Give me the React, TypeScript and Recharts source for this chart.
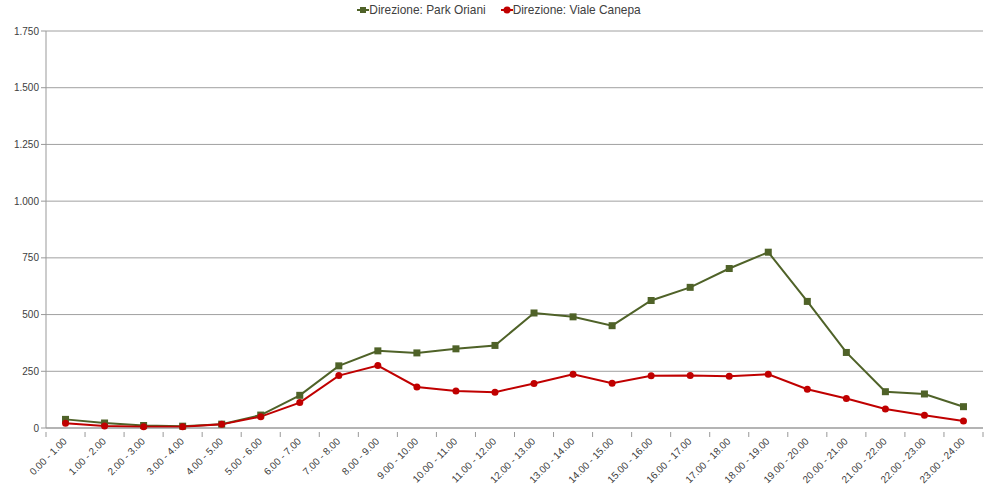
import { CartesianGrid, Line, LineChart, XAxis, YAxis } from 'recharts';

const GREEN = '#4f6228';
const RED = '#c00000';
const FONT = '"Liberation Sans", Arial, sans-serif';

const hours = [
  '0.00 - 1.00', '1.00 - 2.00', '2.00 - 3.00', '3.00 - 4.00', '4.00 - 5.00', '5.00 - 6.00',
  '6.00 - 7.00', '7.00 - 8.00', '8.00 - 9.00', '9.00 - 10.00', '10.00 - 11.00', '11.00 - 12.00',
  '12.00 - 13.00', '13.00 - 14.00', '14.00 - 15.00', '15.00 - 16.00', '16.00 - 17.00', '17.00 - 18.00',
  '18.00 - 19.00', '19.00 - 20.00', '20.00 - 21.00', '21.00 - 22.00', '22.00 - 23.00', '23.00 - 24.00',
];
const parkOriani = [38, 22, 11, 8, 17, 57, 144, 274, 340, 331, 349, 364, 507, 490, 451, 562, 620, 703, 775, 558, 333, 160, 150, 94];
const vialeCanepa = [21, 9, 6, 6, 16, 50, 112, 231, 275, 181, 163, 158, 196, 237, 197, 230, 231, 228, 237, 171, 130, 84, 56, 31];
const yTicks = [0, 250, 500, 750, 1000, 1250, 1500, 1750];

const data = hours.map((h, i) => ({ h, park: parkOriani[i], viale: vialeCanepa[i] }));

const W = 986;
const H = 494;
const STEP = (983 - 46) / hours.length;

const fmt = (v: number) => String(v).replace(/\B(?=(\d{3})+(?!\d))/g, '.');

function Square(props: any) {
  const { cx, cy } = props;
  if (cx == null || cy == null) return null;
  return <rect x={cx - 3.5} y={cy - 3.5} width={7} height={7} fill={GREEN} />;
}

function XTick(props: any) {
  const { x, y, payload, index } = props;
  return (
    <g>
      <line x1={x - STEP / 2} y1={y - 4} x2={x - STEP / 2} y2={y + 1} stroke="#999" />
      {index === hours.length - 1 && <line x1={x + STEP / 2} y1={y - 4} x2={x + STEP / 2} y2={y + 1} stroke="#999" />}
      <text x={x + 2} y={y + 6} textAnchor="end" transform={`rotate(-45 ${x + 2} ${y + 6})`} fontSize={10} fill="#404040" fontFamily={FONT}>
        {payload.value}
      </text>
    </g>
  );
}

function LegendBox() {
  const item = (label: string, color: string, square: boolean, gap: number) => (
    <span style={{ display: 'inline-flex', alignItems: 'center', marginRight: gap }}>
      <svg width={12} height={10}>
        <line x1={0} y1={5} x2={12} y2={5} stroke={color} strokeWidth={2} />
        {square ? <rect x={3} y={2} width={6} height={6} fill={color} /> : <circle cx={6} cy={5} r={3.5} fill={color} />}
      </svg>
      <span>{label}</span>
    </span>
  );
  return (
    <div style={{ position: 'absolute', left: 0, top: 3, width: W, textAlign: 'center', fontFamily: FONT, fontSize: 11.9, color: '#404040', paddingLeft: 12, boxSizing: 'border-box' }}>
      {item('Direzione: Park Oriani', GREEN, true, 15)}
      {item('Direzione: Viale Canepa', RED, false, 0)}
    </div>
  );
}

export default function App() {
  return (
    <div style={{ position: 'absolute', left: 0, top: 0, width: W, height: H, background: '#fff' }}>
      <LineChart width={W} height={H} data={data} margin={{ top: 31, right: 3, bottom: 4, left: 2 }}>
        <CartesianGrid vertical={false} stroke="#a0a0a0" />
        <XAxis
          dataKey="h"
          interval={0}
          height={62}
          tick={<XTick />}
          tickLine={false}
          axisLine={{ stroke: '#999' }}
          padding={{ left: STEP / 2, right: STEP / 2 }}
        />
        <YAxis
          domain={[0, 1750]}
          ticks={yTicks}
          width={44}
          tickFormatter={fmt}
          tick={{ fontSize: 10, fill: '#404040', fontFamily: FONT }}
          tickLine={{ stroke: '#999' }}
          tickSize={5}
          axisLine={{ stroke: '#999' }}
        />
        <Line dataKey="park" name="Direzione: Park Oriani" stroke={GREEN} strokeWidth={2} dot={<Square />} isAnimationActive={false} />
        <Line dataKey="viale" name="Direzione: Viale Canepa" stroke={RED} strokeWidth={2} dot={{ r: 3.5, fill: RED, stroke: RED, strokeWidth: 0 }} isAnimationActive={false} />
      </LineChart>
      <LegendBox />
    </div>
  );
}
